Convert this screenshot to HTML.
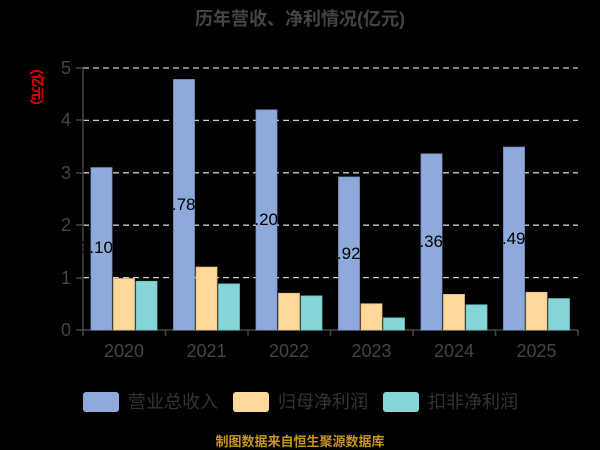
<!DOCTYPE html>
<html><head><meta charset="utf-8"><style>body{margin:0;background:#000}svg{display:block}</style></head><body>
<svg width="600" height="450" xmlns="http://www.w3.org/2000/svg" font-family="Liberation Sans, Noto Sans CJK SC, sans-serif">
<rect width="600" height="450" fill="#000"/>
<text x="300" y="25" text-anchor="middle" font-size="18" font-weight="bold" fill="#444">历年营收、净利情况(亿元)</text>
<text transform="translate(33,87) rotate(90)" text-anchor="middle" font-size="13" fill="none" stroke="#f00" stroke-width="0.8">(亿元)</text>
<g stroke="#ccc" stroke-width="1.3" stroke-dasharray="6,4">
<line x1="83" y1="68" x2="578" y2="68"/><line x1="83" y1="120.4" x2="578" y2="120.4"/><line x1="83" y1="172.8" x2="578" y2="172.8"/><line x1="83" y1="225.2" x2="578" y2="225.2"/><line x1="83" y1="277.6" x2="578" y2="277.6"/>
</g>
<g font-size="18" fill="#444" text-anchor="end">
<text x="71" y="74">5</text><text x="71" y="126">4</text><text x="71" y="179">3</text><text x="71" y="231">2</text><text x="71" y="284">1</text><text x="71" y="336">0</text>
</g>
<g stroke="#444" stroke-width="1.5">
<line x1="83" y1="68" x2="83" y2="330"/><line x1="83" y1="330" x2="578" y2="330"/>
<line x1="76" y1="68" x2="83" y2="68"/><line x1="76" y1="120" x2="83" y2="120"/><line x1="76" y1="173" x2="83" y2="173"/><line x1="76" y1="225" x2="83" y2="225"/><line x1="76" y1="278" x2="83" y2="278"/><line x1="76" y1="330" x2="83" y2="330"/>
<line x1="83" y1="330" x2="83" y2="336"/><line x1="165.5" y1="330" x2="165.5" y2="336"/><line x1="248" y1="330" x2="248" y2="336"/><line x1="330.5" y1="330" x2="330.5" y2="336"/><line x1="413" y1="330" x2="413" y2="336"/><line x1="495.5" y1="330" x2="495.5" y2="336"/><line x1="578" y1="330" x2="578" y2="336"/>
</g>
<g stroke-width="0.8">
<g fill="#8eaadb" stroke="#7a96c8">
<rect x="91" y="167.6" width="21" height="162.4"/>
<rect x="173.5" y="79.5" width="21" height="250.5"/>
<rect x="256" y="109.9" width="21" height="220.1"/>
<rect x="338.5" y="177" width="21" height="153"/>
<rect x="421" y="153.9" width="21" height="176.1"/>
<rect x="503.5" y="147.1" width="21" height="182.9"/>
</g>
<g fill="#ffd89a" stroke="#e8c07e">
<rect x="113.5" y="278.6" width="21" height="51.4"/>
<rect x="196" y="267.1" width="21" height="62.9"/>
<rect x="278.5" y="293.3" width="21" height="36.7"/>
<rect x="361" y="303.8" width="21" height="26.2"/>
<rect x="443.5" y="294.4" width="21" height="35.6"/>
<rect x="526" y="292.3" width="21" height="37.7"/>
</g>
<g fill="#86d5d9" stroke="#70bfc3">
<rect x="136" y="281.3" width="21" height="48.7"/>
<rect x="218.5" y="283.9" width="21" height="46.1"/>
<rect x="301" y="295.9" width="21" height="34.1"/>
<rect x="383.5" y="317.9" width="21" height="12.1"/>
<rect x="466" y="304.8" width="21" height="25.2"/>
<rect x="548.5" y="298.6" width="21" height="31.4"/>
</g>
</g>
<g font-size="17" fill="#000" text-anchor="end">
<text x="113" y="253">3.10</text>
<text x="195.5" y="210">4.78</text>
<text x="278" y="225">4.20</text>
<text x="360.5" y="259">2.92</text>
<text x="443" y="247">3.36</text>
<text x="525.5" y="244">3.49</text>
</g>
<g font-size="18" fill="#444" text-anchor="middle">
<text x="124" y="357">2020</text><text x="206.5" y="357">2021</text><text x="289" y="357">2022</text><text x="371.5" y="357">2023</text><text x="454" y="357">2024</text><text x="536.5" y="357">2025</text>
</g>
<g>
<rect x="83" y="392" width="36" height="20" rx="3" fill="#8eaadb"/>
<rect x="233" y="392" width="36" height="20" rx="3" fill="#ffd89a"/>
<rect x="383" y="392" width="36" height="20" rx="3" fill="#86d5d9"/>
<g font-size="18" fill="#333"><text x="128" y="408">营业总收入</text><text x="278" y="408">归母净利润</text><text x="428" y="408">扣非净利润</text></g>
</g>
<text x="300" y="446" text-anchor="middle" font-size="13" font-weight="bold" fill="#c8961e">制图数据来自恒生聚源数据库</text>
</svg>
</body></html>
